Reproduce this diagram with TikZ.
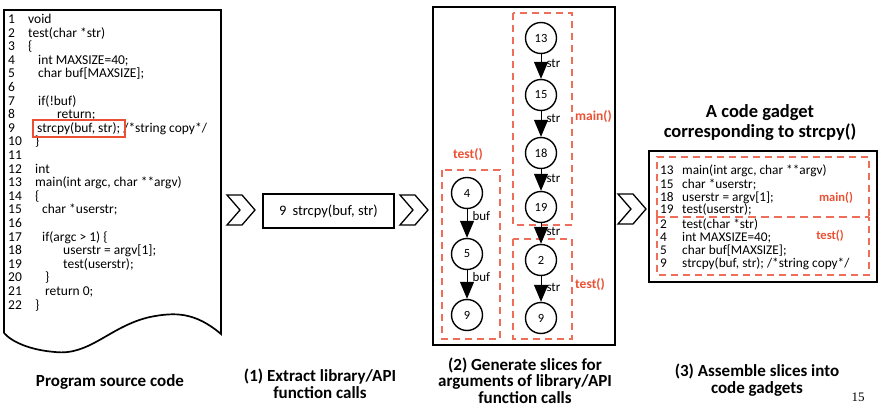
\documentclass[tikz,border=0pt]{standalone}
\usepackage{fontspec}
\setmainfont{Carlito}
\newfontfamily\numfont{Liberation Serif}
\usetikzlibrary{arrows.meta}
\definecolor{dred}{RGB}{238,110,90}
\definecolor{tred}{RGB}{236,80,50}
\tikzset{
  codetxt/.style={anchor=base west,inner sep=0pt,font=\fontsize{13.5}{14}\selectfont},
  gtxt/.style={anchor=base west,inner sep=0pt,font=\fontsize{13.3}{14}\selectfont},
  captxt/.style={align=center,font=\bfseries\fontsize{17}{16.5}\selectfont,inner sep=0pt},
  frame/.style={draw=black,line width=1.7pt},
  dbox/.style={draw=dred,line width=1.3pt,dash pattern=on 7pt off 5pt},
  circ/.style={draw=black,circle,line width=1.4pt,minimum size=31pt,inner sep=0pt,font=\fontsize{12.5}{14}\selectfont},
  flow/.style={draw=black,line width=1pt,-{Triangle[width=14pt,length=17pt]}},
  elab/.style={anchor=west,inner sep=0pt,font=\fontsize{13}{14}\selectfont,xshift=5pt},
  rlab/.style={text=tred,font=\bfseries\fontsize{13.5}{14}\selectfont,inner sep=0pt},
  chev/.style={draw=black,line width=1.3pt,fill=white,line join=miter}
}
\newcommand\srcline[3]{%
  \node[codetxt] (n#1) at (8,{23.5+13.6*(#1-1)}) {#1};
  \node[codetxt] (t#1) at (#2,{23.5+13.6*(#1-1)}) {#3};}
\newcommand\chevron[2]{%
  \draw[chev] (#1,#2-15) -- ++(15,0) -- ++(13,15) -- ++(-13,15) -- ++(-15,0) -- ++(13,-15) -- cycle;}
\begin{document}
\begin{tikzpicture}[x=1pt,y=-1pt]
\useasboundingbox (0,0) rectangle (879,407);
% ---------- source document ----------
\draw[frame] (4,333) -- (4,10) -- (221,10) -- (221,334)
  .. controls (195,312) and (175,312) .. (150,317)
  .. controls (110,326) and (90,356) .. (55,352)
  .. controls (30,350) and (12,342) .. (4,333);
\srcline{1}{28}{void}
\srcline{2}{28}{test(char *str)}
\srcline{3}{28}{\{}
\srcline{4}{38}{int MAXSIZE=40;}
\srcline{5}{38}{char buf[MAXSIZE];}
\srcline{6}{38}{}
\srcline{7}{38}{if(!buf)}
\srcline{8}{57}{return;}
\srcline{9}{37}{strcpy(buf, str); /*string copy*/}
\srcline{10}{35}{\}}
\srcline{11}{35}{}
\srcline{12}{35}{int}
\srcline{13}{35}{main(int argc, char **argv)}
\srcline{14}{35}{\{}
\srcline{15}{42}{char *userstr;}
\srcline{16}{42}{}
\srcline{17}{42}{if(argc > 1) \{}
\srcline{18}{63}{userstr = argv[1];}
\srcline{19}{63}{test(userstr);}
\srcline{20}{45}{\}}
\srcline{21}{45}{return 0;}
\srcline{22}{35}{\}}
\draw[draw=tred,line width=1.3pt] (33,120) rectangle (125,137);
\node[captxt] (cap0) at (110,382) {Program source code};
% ---------- step 1 ----------
\chevron{227}{210}
\node[frame,minimum width=131pt,minimum height=34pt,inner sep=0pt,font=\fontsize{14.5}{15}\selectfont] (call) at (328.5,211) {9\hspace{6pt}strcpy(buf, str)};
\chevron{400}{210}
\node[captxt] (cap1) at (320,383.5) {(1) Extract library/API\\function calls};
% ---------- step 2 ----------
\draw[frame] (433,7) rectangle (615,345);
\draw[dbox] (513,13) rectangle (572,225);
\draw[dbox] (513,239) rectangle (572,339);
\draw[dbox] (442,170) rectangle (500,339);
\node[circ] (m13) at (541,38) {13};
\node[circ] (m15) at (541,95) {15};
\node[circ] (m18) at (541,153) {18};
\node[circ] (m19) at (541,207) {19};
\node[circ] (r2) at (541,260) {2};
\node[circ] (r9) at (541,318) {9};
\node[circ] (l4) at (467,193) {4};
\node[circ] (l5) at (467,254) {5};
\node[circ] (l9) at (467,315) {9};
\draw[flow] (m13) -- node[elab,pos=0.37] {str} (m15);
\draw[flow] (m15) -- node[elab,pos=0.3] {str} (m18);
\draw[flow] (m18) -- node[elab,pos=0.45] {str} (m19);
\draw[flow] (m19) -- node[elab,pos=0.4] {str} (r2);
\draw[flow] (r2) -- node[elab,pos=0.45] {str} (r9);
\draw[flow] (l4) -- node[elab,pos=0.25] {buf} (l5);
\draw[flow] (l5) -- node[elab,pos=0.25] {buf} (l9);
\node[rlab,anchor=west] (lmain) at (575,117) {main()};
\node[rlab,anchor=west] (ltestr) at (575,285) {test()};
\node[rlab] (ltestl) at (468,155) {test()};
\node[captxt] (cap2) at (525,380.5) {(2) Generate slices for\\arguments of library/API\\function calls};
% ---------- step 3 ----------
\chevron{618}{209}
\node[captxt,font=\bfseries\fontsize{18.5}{20}\selectfont] (title) at (760,123) {A code gadget\\corresponding to strcpy()};
\draw[frame] (649,151) rectangle (877,282);
\draw[dbox] (657,217) -- (657,157) -- (869,157) -- (869,217);
\draw[dbox] (657,217) -- (657,275) -- (869,275) -- (869,217);
\draw[draw=dred,line width=2.6pt,dash pattern=on 8pt off 5pt] (657,217) -- (869,217);
\node[gtxt] (g13) at (660,174.5) {13};
\node[gtxt] (g13t) at (682,174.5) {main(int argc, char **argv)};
\node[gtxt] (g15) at (660,188) {15};
\node[gtxt] (g15t) at (682,188) {char *userstr;};
\node[gtxt] (g18) at (660,201) {18};
\node[gtxt] (g18t) at (682,201) {userstr = argv[1];};
\node[gtxt] (g19) at (660,213.5) {19};
\node[gtxt] (g19t) at (682,213.5) {test(userstr);};
\node[gtxt] (g2) at (660,228.5) {2};
\node[gtxt] (g2t) at (682,228.5) {test(char *str)};
\node[gtxt] (g4) at (660,241.5) {4};
\node[gtxt] (g4t) at (682,241.5) {int MAXSIZE=40;};
\node[gtxt] (g5) at (660,254) {5};
\node[gtxt] (g5t) at (682,254) {char buf[MAXSIZE];};
\node[gtxt] (g9) at (660,267) {9};
\node[gtxt] (g9t) at (682,267) {strcpy(buf, str); /*string copy*/};
\node[rlab,font=\bfseries\fontsize{12.5}{14}\selectfont] (gmain) at (836,198) {main()};
\node[rlab,font=\bfseries\fontsize{12.5}{14}\selectfont] (gtest) at (830,236) {test()};
\node[captxt] (cap3) at (757,380) {(3) Assemble slices into\\code gadgets};
\node[inner sep=0pt,font=\numfont\fontsize{13}{14}\selectfont] (pg) at (858,397) {15};
\end{tikzpicture}
\end{document}
